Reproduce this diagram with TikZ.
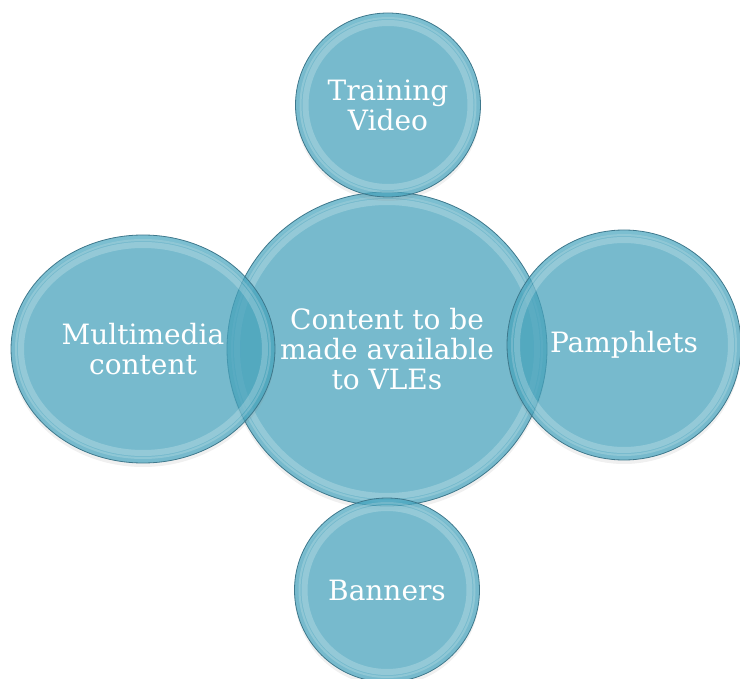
\documentclass[tikz,border=0pt]{standalone}
\usepackage{fontspec}
\setmainfont{DejaVu Serif}
\usetikzlibrary{shapes.geometric,calc,shadows}
\definecolor{bubblefill}{RGB}{68,164,190}
\definecolor{bubbleedge}{RGB}{62,120,140}
\tikzset{
  bubble/.style={ellipse, draw=bubbleedge, line width=0.8pt,
    fill=bubblefill, fill opacity=0.7, text opacity=1,
    text=white, align=center, inner sep=0pt,
    font=\fontsize{28}{30}\selectfont,
    drop shadow={opacity=0.12, shadow xshift=0pt, shadow yshift=-4pt},
    path picture={
      \draw[white, draw opacity=0.22, line width=6pt]
        let \p1=(path picture bounding box.north east),
            \p2=(path picture bounding box.center) in
        (\p2) ellipse [x radius={\x1-\x2-10pt}, y radius={\y1-\y2-10pt}];
      \draw[white, draw opacity=0.18, line width=2pt]
        let \p1=(path picture bounding box.north east),
            \p2=(path picture bounding box.center) in
        (\p2) ellipse [x radius={\x1-\x2-5pt}, y radius={\y1-\y2-5pt}];
    }}
}
\begin{document}
\begin{tikzpicture}[x=1pt,y=-1pt]
\useasboundingbox (0,0) rectangle (740,679);
\node[bubble, minimum width=320pt, minimum height=314pt] (hub) at (387,349) {Content to be\\made available\\to VLEs};
\node[bubble, minimum width=185pt, minimum height=184pt] (video) at (388,105) {Training\\Video};
\node[bubble, minimum width=234pt, minimum height=230pt] (pamph) at (624,345) {Pamphlets};
\node[bubble, minimum width=185pt, minimum height=184pt] (banner) at (387,590) {Banners};
\node[bubble, minimum width=264pt, minimum height=228pt] (multi) at (143,349) {Multimedia\\content};
\end{tikzpicture}
\end{document}
